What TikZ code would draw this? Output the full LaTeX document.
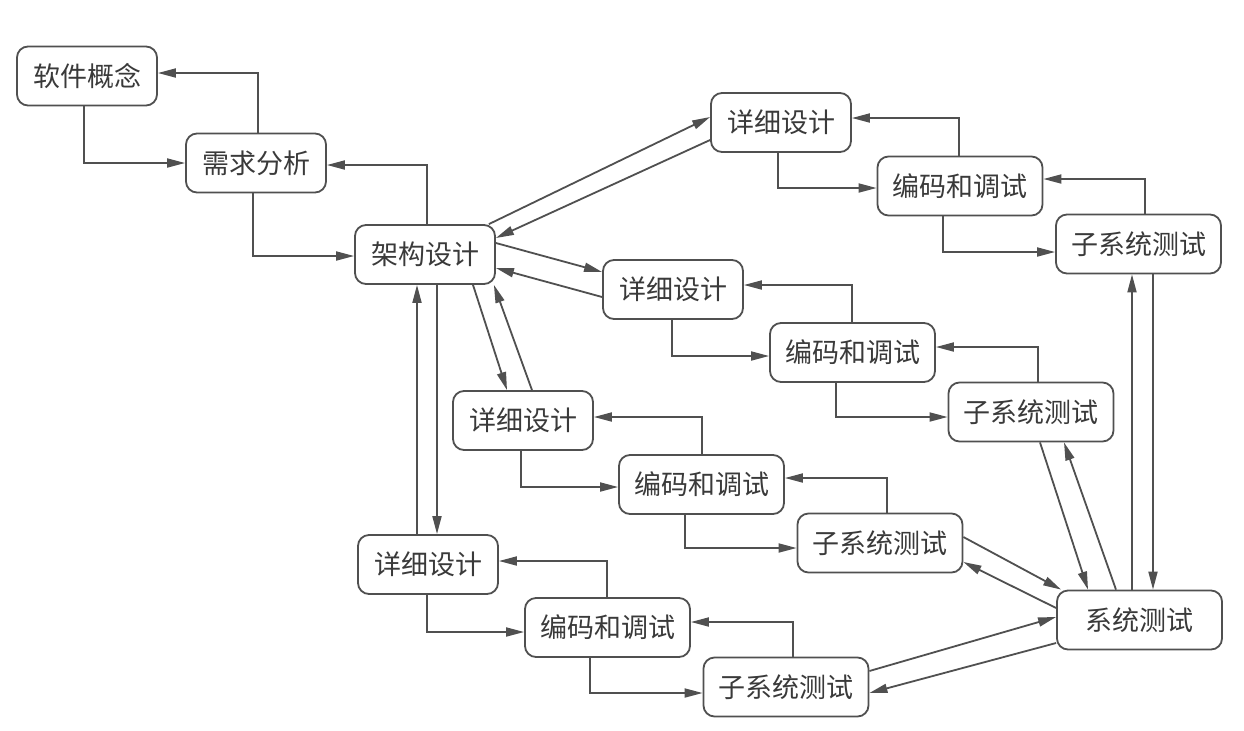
\documentclass[tikz,border=0pt]{standalone}
\usepackage{fontspec}
\newfontfamily\cjk{Noto Sans CJK SC}
\usetikzlibrary{arrows.meta,calc}
\definecolor{ln}{HTML}{505050}
\definecolor{tx}{HTML}{3A3A3A}
\tikzset{
  box/.style={draw=ln, line width=0.9pt, rounded corners=5.5pt, minimum height=29.5pt,
    inner sep=0pt, text=tx, font=\cjk\fontsize{13.5}{16}\selectfont},
  boxa/.style={box, minimum width=70pt},
  boxb/.style={box, minimum width=82.5pt},
  arr/.style={draw=ln, line width=0.9pt, -{Triangle[length=9pt,width=4.5pt]}}
}
\begin{document}
\begin{tikzpicture}[x=0.5pt,y=-0.5pt]
\useasboundingbox[fill=white] (0,0) rectangle (1244,730);
% nodes
\node[boxa] (sw) at (87,76) {软件概念};
\node[boxa] (xq) at (256,163) {需求分析};
\node[boxa] (jg) at (425,254.5) {架构设计};
\node[boxa] (d1) at (781,122.5) {详细设计};
\node[boxb] (c1) at (960,186) {编码和调试};
\node[boxb] (s1) at (1138.5,244) {子系统测试};
\node[boxa] (d2) at (673,289.5) {详细设计};
\node[boxb] (c2) at (852.5,352.5) {编码和调试};
\node[boxb] (s2) at (1031,412) {子系统测试};
\node[boxa] (d3) at (523,420.5) {详细设计};
\node[boxb] (c3) at (701.5,484.5) {编码和调试};
\node[boxb] (s3) at (880,543) {子系统测试};
\node[boxa] (d4) at (428,564.5) {详细设计};
\node[boxb] (c4) at (607.5,627.5) {编码和调试};
\node[boxb] (s4) at (786,687) {子系统测试};
\node[boxb] (xt) at (1139.5,620) {系统测试};
% elbow connectors
\draw[arr] ($(sw.south)+(-3,0)$) |- ($(xq.west)+(0,0)$);
\draw[arr] ($(xq.north)+(2,0)$) |- ($(sw.east)+(0,-3)$);
\draw[arr] ($(xq.south)+(-3,0)$) |- ($(jg.west)+(0,1.5)$);
\draw[arr] ($(jg.north)+(2,0)$) |- ($(xq.east)+(0,2)$);
\draw[arr] ($(d1.south)+(-3,0)$) |- ($(c1.west)+(0,2)$);
\draw[arr] ($(c1.north)+(-1,0)$) |- ($(d1.east)+(0,-4.5)$);
\draw[arr] ($(c1.south)+(-17,0)$) |- ($(s1.west)+(0,8)$);
\draw[arr] ($(s1.north)+(6.5,0)$) |- ($(c1.east)+(0,-7)$);
\draw[arr] ($(d2.south)+(-1,0)$) |- ($(c2.west)+(0,3.5)$);
\draw[arr] ($(c2.north)+(-0.5,0)$) |- ($(d2.east)+(0,-4.5)$);
\draw[arr] ($(c2.south)+(-16.5,0)$) |- ($(s2.west)+(0,5)$);
\draw[arr] ($(s2.north)+(7,0)$) |- ($(c2.east)+(0,-5.5)$);
\draw[arr] ($(d3.south)+(-2,0)$) |- ($(c3.west)+(0,2.5)$);
\draw[arr] ($(c3.north)+(0.5,0)$) |- ($(d3.east)+(0,-3.5)$);
\draw[arr] ($(c3.south)+(-16.5,0)$) |- ($(s3.west)+(0,5)$);
\draw[arr] ($(s3.north)+(7,0)$) |- ($(c3.east)+(0,-6.5)$);
\draw[arr] ($(d4.south)+(-1,0)$) |- ($(c4.west)+(0,4.5)$);
\draw[arr] ($(c4.north)+(-0.5,0)$) |- ($(d4.east)+(0,-3.5)$);
\draw[arr] ($(c4.south)+(-17.5,0)$) |- ($(s4.west)+(0,6)$);
\draw[arr] ($(s4.north)+(7,0)$) |- ($(c4.east)+(0,-5.5)$);
% diagonal connectors
\draw[arr] ($(jg.north east)+(-7,0)$) -- ($(d1.west)+(0,-5.5)$);
\draw[arr] ($(d1.west)+(0,17.5)$) -- ($(jg.east)+(0,-16.5)$);
\draw[arr] ($(jg.east)+(0,-11.5)$) -- ($(d2.west)+(0,-17.5)$);
\draw[arr] ($(d2.west)+(0,7.5)$) -- ($(jg.east)+(0,13.5)$);
\draw[arr] ($(jg.south)+(48,0)$) -- ($(d3.north)+(-16,0)$);
\draw[arr] ($(d3.north)+(9,0)$) -- ($(jg.south east)+(-2,0)$);
\draw[arr] ($(jg.south)+(12,0)$) -- ($(d4.north)+(9,0)$);
\draw[arr] ($(d4.north)+(-11,0)$) -- ($(jg.south)+(-8,0)$);
\draw[arr] ($(s1.south)+(14.5,0)$) -- ($(xt.north)+(13.5,0)$);
\draw[arr] ($(xt.north)+(-7.5,0)$) -- ($(s1.south)+(-6.5,0)$);
\draw[arr] ($(s2.south)+(9,0)$) -- ($(xt.north)+(-51.5,0)$);
\draw[arr] ($(xt.north)+(-23.5,0)$) -- ($(s2.south)+(33,0)$);
\draw[arr] ($(s3.east)+(0,-6)$) -- ($(xt.north west)+(5,0)$);
\draw[arr] ($(xt.west)+(0,-12)$) -- ($(s3.east)+(0,19)$);
\draw[arr] ($(s4.east)+(0,-16)$) -- ($(xt.west)+(0,-3)$);
\draw[arr] ($(xt.west)+(0,23)$) -- ($(s4.east)+(0,6)$);
\end{tikzpicture}
\end{document}
